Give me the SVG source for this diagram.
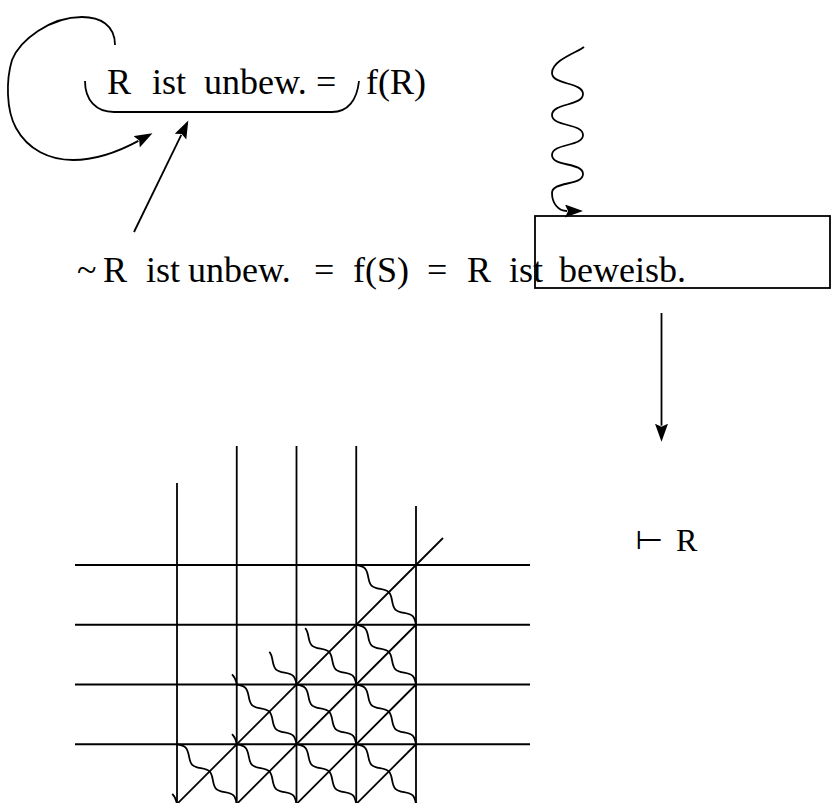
<svg xmlns="http://www.w3.org/2000/svg" xmlns:xlink="http://www.w3.org/1999/xlink" width="831" height="803" viewBox="0 0 831 803">
<style>
.ln{stroke:#000;stroke-width:1.8;fill:none;stroke-linecap:butt}
.tx{font-family:"Liberation Serif","Times New Roman",serif;font-size:36px;fill:#000}
.sym{font-family:"DejaVu Sans",sans-serif;font-size:25px;font-weight:200;fill:#000}
</style>
<defs>
<marker id="ah" markerUnits="userSpaceOnUse" markerWidth="20" markerHeight="14" refX="2" refY="6.5" orient="auto">
<path d="M0,0 L18,6.5 L0,13 L3,6.5 Z" fill="#000"/>
</marker>
<path id="wv" class="ln" d="M0,0 C2.76,-1.95 5.39,-3.8 8.45,-3.8 C11.51,-3.8 14.14,-1.95 16.9,0 C19.66,1.95 22.29,3.8 25.35,3.8 C28.41,3.8 31.04,1.95 33.8,0 C36.56,-1.95 39.19,-3.8 42.25,-3.8 C45.31,-3.8 47.94,-1.95 50.7,0 C53.46,1.95 56.09,3.8 59.15,3.8 C62.21,3.8 64.84,1.95 67.6,0 C70.36,-1.95 72.99,-3.8 76.05,-3.8 C79.11,-3.8 81.74,-1.95 84.5,0"/>
<path id="wvLong" class="ln" d="M8.45,-3.8 C11.51,-3.8 14.14,-1.95 16.9,0 C19.66,1.95 22.29,3.8 25.35,3.8 C28.41,3.8 31.04,1.95 33.8,0 C36.56,-1.95 39.19,-3.8 42.25,-3.8 C45.31,-3.8 47.94,-1.95 50.7,0 C53.46,1.95 56.09,3.8 59.15,3.8 C62.21,3.8 64.84,1.95 67.6,0 C70.36,-1.95 72.99,-3.8 76.05,-3.8 C79.11,-3.8 81.74,-1.95 84.5,0"/>
<path id="wvHalf" class="ln" d="M42.25,-3.8 C45.31,-3.8 47.94,-1.95 50.7,0 C53.46,1.95 56.09,3.8 59.15,3.8 C62.21,3.8 64.84,1.95 67.6,0 C70.36,-1.95 72.99,-3.8 76.05,-3.8 C79.11,-3.8 81.74,-1.95 84.5,0"/>
<path id="wvEnd" class="ln" d="M74,-3.8 C77.5,-3.8 81.74,-1.95 84.5,0"/>
</defs>

<g id="node-top">
<text class="tx" y="94"><tspan x="107">R</tspan><tspan x="152">ist</tspan><tspan x="204">unbew.</tspan><tspan x="316">=</tspan><tspan x="366">f(R)</tspan></text>
<path class="ln" d="M85,81 C85,100 96,112 114,112 L332,112 C348,112 357,100 359,81"/>
</g>

<g id="node-bottom">
<text class="tx" y="282"><tspan x="77">~</tspan><tspan x="103">R</tspan><tspan x="146">ist</tspan><tspan x="188">unbew.</tspan><tspan x="314">=</tspan><tspan x="353">f(S)</tspan><tspan x="427">=</tspan><tspan x="467">R</tspan><tspan x="509">ist</tspan><tspan x="559">beweisb.</tspan></text>
</g>

<g id="node-box">
<rect class="ln" x="535" y="216" width="295" height="72"/>
</g>

<g id="node-turnstile">
<text class="sym" transform="translate(635,548.5) scale(1.3,1)">⊢</text>
<text class="tx" x="676" y="551" style="font-size:32px">R</text>
</g>

<g id="connectors">
<path class="ln" marker-end="url(#ah)" d="M115,45 C115,25 100,17 82,17 C50,17 20,40 12,60 C6,80 6,110 16,128 C28,150 50,160 73,160 C95,160 118,152 138.4,140.9"/>
<path class="ln" marker-end="url(#ah)" d="M134,232 L181.3,134.9"/>
<path class="ln" marker-end="url(#ah)" d="M584,47 C578,52 552,60 552,73 C552,85 583,82 583,94 C583,106 552,103 552,115 C552,127 583,123 583,135 C583,147 552,143 552,155 C552,167 583,162 583,174 C583,186 552,181 552,193 C552,203 558,211 567,211"/>
<path class="ln" marker-end="url(#ah)" d="M661.5,313 L661.5,425.7"/>
</g>

<g id="grid">
<line class="ln" x1="75" y1="565" x2="530" y2="565"/>
<line class="ln" x1="75" y1="624.75" x2="530" y2="624.75"/>
<line class="ln" x1="75" y1="684.5" x2="530" y2="684.5"/>
<line class="ln" x1="75" y1="744.25" x2="530" y2="744.25"/>
<line class="ln" x1="177" y1="483" x2="177" y2="804"/>
<line class="ln" x1="236.75" y1="446" x2="236.75" y2="804"/>
<line class="ln" x1="296.5" y1="446" x2="296.5" y2="804"/>
<line class="ln" x1="356.25" y1="446" x2="356.25" y2="804"/>
<line class="ln" x1="416" y1="506" x2="416" y2="804"/>
<line class="ln" x1="443" y1="538" x2="177" y2="804"/>
<line class="ln" x1="416" y1="624.75" x2="236.75" y2="804"/>
<line class="ln" x1="416" y1="684.5" x2="296.5" y2="804"/>
<line class="ln" x1="416" y1="744.25" x2="356.25" y2="804"/>
<use xlink:href="#wv" transform="translate(356.25,565) rotate(45)"/>
<use xlink:href="#wv" transform="translate(356.25,624.75) rotate(45)"/>
<use xlink:href="#wvLong" transform="translate(296.5,624.75) rotate(45)"/>
<use xlink:href="#wvHalf" transform="translate(236.75,624.75) rotate(45)"/>
<use xlink:href="#wvEnd" transform="translate(177,624.75) rotate(45)"/>
<use xlink:href="#wv" transform="translate(236.75,684.5) rotate(45)"/>
<use xlink:href="#wv" transform="translate(296.5,684.5) rotate(45)"/>
<use xlink:href="#wv" transform="translate(356.25,684.5) rotate(45)"/>
<use xlink:href="#wvEnd" transform="translate(177,684.5) rotate(45)"/>
<use xlink:href="#wv" transform="translate(177,744.25) rotate(45)"/>
<use xlink:href="#wv" transform="translate(236.75,744.25) rotate(45)"/>
<use xlink:href="#wv" transform="translate(296.5,744.25) rotate(45)"/>
<use xlink:href="#wv" transform="translate(356.25,744.25) rotate(45)"/>
<use xlink:href="#wvEnd" transform="translate(117.25,744.25) rotate(45)"/>
</g>
</svg>
